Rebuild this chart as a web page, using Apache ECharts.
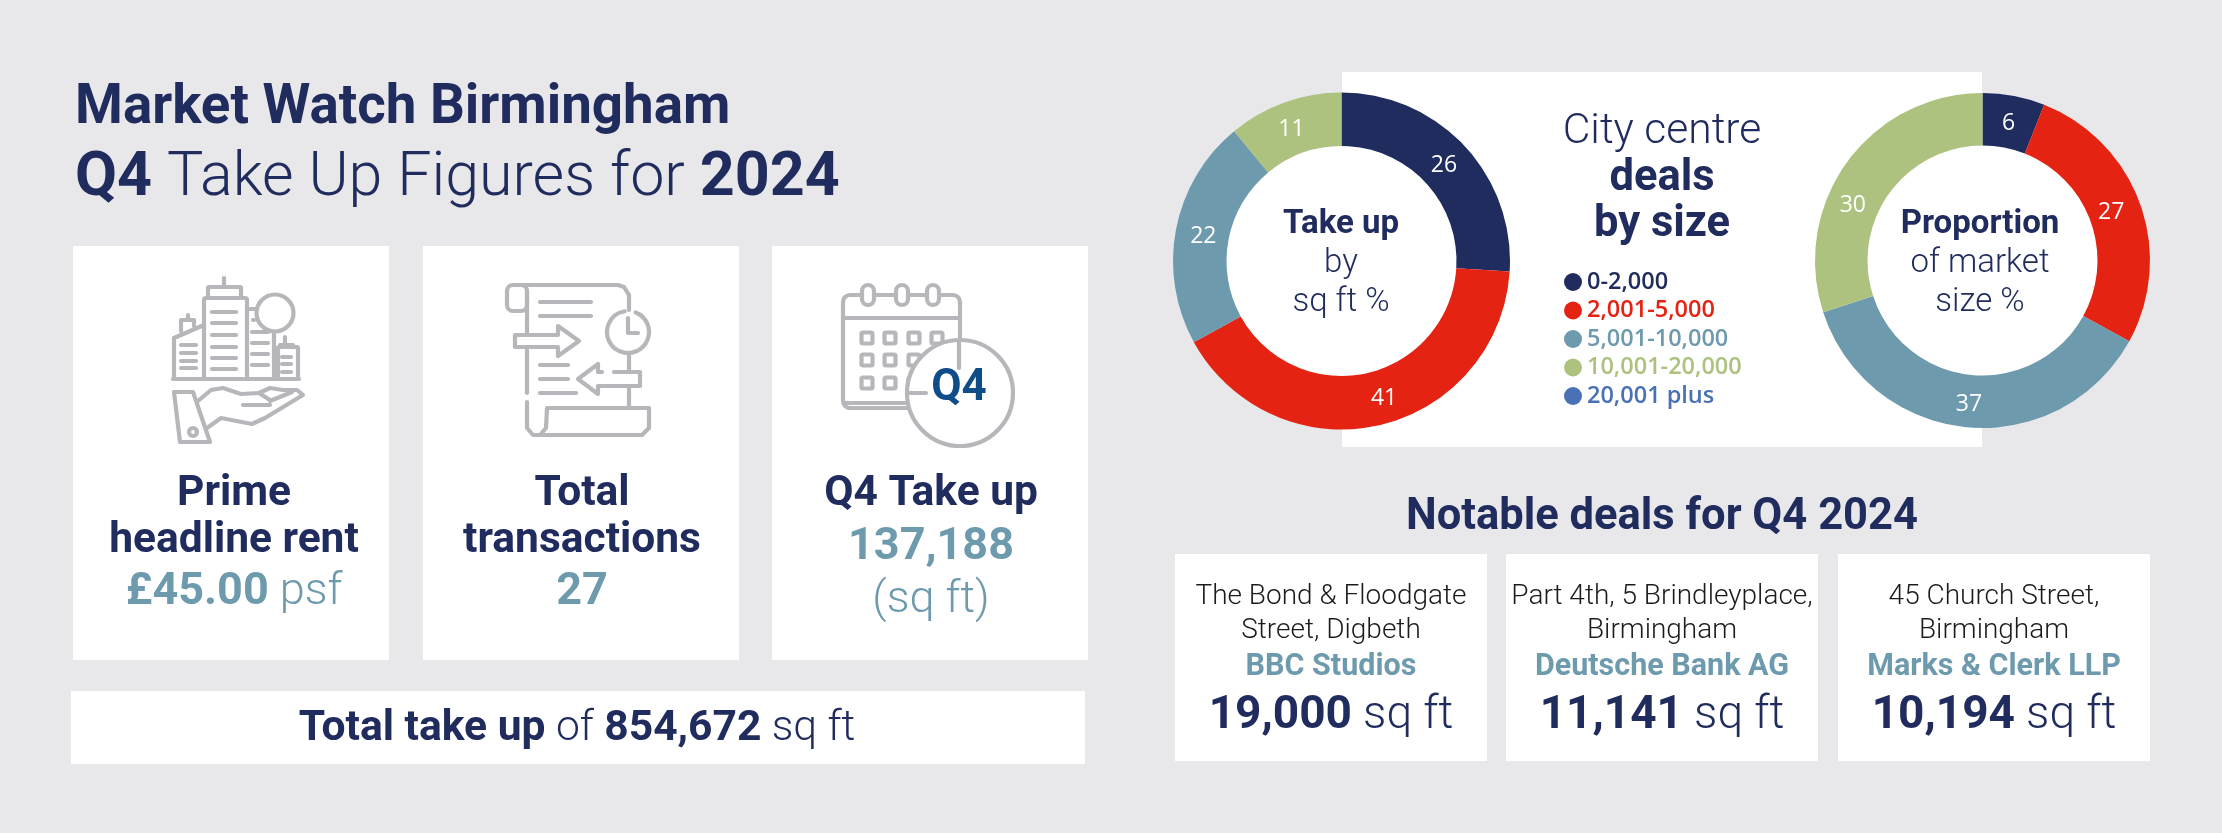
<html>
<head>
    <meta charset="UTF-8">
    <title>Market Watch Birmingham</title>
    <script src="https://cdn.jsdelivr.net/npm/echarts@6/dist/echarts.min.js"></script>
    <style>
        html, body { margin: 0; padding: 0; background: #e8e8ea; }
    </style>
</head>

<body>
    <div id="container" style="width: 2222px;height:833px;"></div>
</body>

<script>
    var sizeBands = ['0-2,000', '2,001-5,000', '5,001-10,000', '10,001-20,000', '20,001 plus'];
    var takeUpShare = [26, 41, 22, 11, 0];
    var marketShare = [6, 27, 37, 30, 0];

    var bandColors = ['#212c5e', '#e52313', '#6e9aae', '#adc27f', '#4a70b5'];

    // the value labels sit a little off the ring centre in the original
    var takeUpNudge = [[-3, 4], [11, -4], [4, 3], [-1, 5], [0, 0]];
    var marketNudge = [[-1, 5], [-7, 1], [0, 0], [-13, 30], [0, 0]];

    var navy = '#212c5e';
    var teal = '#6e9aae';
    var grey = '#b7b6bb';
    var font = 'Roboto';
    var stroke = 4.2;

    var dealPlaces = [['The Bond & Floodgate', 'Street, Digbeth'], ['Part 4th, 5 Brindleyplace,', 'Birmingham'], ['45 Church Street,', 'Birmingham']];
    var dealTenants = ['BBC Studios', 'Deutsche Bank AG', 'Marks & Clerk LLP'];
    var dealAreas = ['19,000', '11,141', '10,194'];

    var elements = [];

    function panel(x, y, w, h) {
        elements.push({ type: 'rect', z: 0, shape: { x: x, y: y, width: w, height: h }, style: { fill: '#fff' } });
    }

    function label(x, y, text, size, weight, color) {
        elements.push({
            type: 'text', z: 10,
            style: { x: x, y: y, text: text, fontFamily: font, fontSize: size, fontWeight: weight, fill: color, align: 'center', verticalAlign: 'middle' }
        });
    }

    // mixed weight line, parts are [text, weight]
    function mixed(x, y, parts, size, color, align) {
        var rich = {}, str = '';
        parts.forEach(function (p, i) {
            rich['p' + i] = { fontFamily: font, fontSize: size, fontWeight: p[1], fill: color };
            str += '{p' + i + '|' + p[0] + '}';
        });
        elements.push({
            type: 'text', z: 10,
            style: { x: x, y: y, text: str, rich: rich, align: align || 'center', verticalAlign: 'middle' }
        });
    }

    function poly(points, fill, z) {
        elements.push({
            type: 'polyline', z: z || 5,
            shape: { points: points },
            style: { fill: fill || 'none', stroke: grey, lineWidth: stroke, lineCap: 'round', lineJoin: 'round' }
        });
    }

    function line(x1, y1, x2, y2, z) {
        elements.push({ type: 'line', z: z || 5, shape: { x1: x1, y1: y1, x2: x2, y2: y2 }, style: { stroke: grey, lineWidth: stroke, lineCap: 'round' } });
    }

    function box(x, y, w, h, r, fill, z) {
        elements.push({ type: 'rect', z: z || 5, shape: { x: x, y: y, width: w, height: h, r: r || 0 }, style: { fill: fill || 'none', stroke: grey, lineWidth: stroke } });
    }

    function ring(cx, cy, r, fill, z) {
        elements.push({ type: 'circle', z: z || 5, shape: { cx: cx, cy: cy, r: r }, style: { fill: fill || 'none', stroke: grey, lineWidth: stroke } });
    }

    function arc(cx, cy, r, a0, a1) {
        elements.push({ type: 'arc', z: 5, shape: { cx: cx, cy: cy, r: r, startAngle: a0, endAngle: a1 }, style: { fill: 'none', stroke: grey, lineWidth: stroke, lineCap: 'round' } });
    }

    function buildingIcon() {
        box(204, 298, 43, 81, 2);
        box(208, 287, 33, 11, 1);
        line(224, 278, 224, 287);
        line(173, 379, 299, 379);
        poly([[204, 325], [174, 338], [174, 379]]);
        poly([[181, 331], [181, 320], [194, 320], [194, 326]]);
        line(188, 315, 188, 320);
        [345, 353, 361, 368].forEach(function (y) { line(181, y, 196, y); });
        [312, 323, 335, 347, 358, 369].forEach(function (y) { line(212, y, 236, y); });
        [332, 343, 354, 365].forEach(function (y) { line(252, y, 268, y); });
        line(253, 320, 254, 320);
        line(247, 309, 257, 309);
        ring(275, 313, 18.5);
        line(274, 332, 274, 379);
        box(278, 347, 20, 32, 1);
        [357, 364, 372].forEach(function (y) { line(282, y, 291, y); });
        line(285, 337, 285, 345);
        line(280, 345, 293, 345);
        poly([[174, 392], [193, 392], [210, 442], [180, 442], [174, 392]]);
        ring(193, 432, 4);
        poly([[198, 401], [211, 390], [223, 388], [241, 394], [259, 393], [270, 388], [283, 390], [297, 390], [303, 395], [265, 418], [252, 424], [221, 418], [207, 428]]);
        line(243, 405, 270, 405);
        poly([[270, 401], [292, 392]]);
        poly([[259, 393], [270, 400]]);
    }

    function documentIcon() {
        poly([[520, 285], [618, 285], [624, 287], [629, 295], [629, 310]]);
        box(507, 285, 20, 26, 6);
        line(527, 292, 527, 333);
        line(527, 350, 527, 393);
        poly([[527, 402], [527, 428], [533, 435], [540, 435], [546, 428], [547, 408], [649, 408], [649, 428], [642, 435], [540, 435]]);
        line(540, 302, 591, 302);
        line(540, 316, 591, 316);
        line(540, 365, 568, 365);
        line(540, 379, 568, 379);
        line(540, 393, 576, 393);
        poly([[515, 335], [558, 335], [558, 326], [579, 341], [558, 356], [558, 347], [515, 347], [515, 335]]);
        poly([[614, 372], [640, 372], [640, 386], [598, 386], [598, 394], [578, 379], [598, 364], [598, 372], [602, 372]]);
        arc(628, 332, 21, -Math.PI * 0.38, -Math.PI * 0.55);
        poly([[628, 318], [628, 333], [638, 333]]);
        line(629, 353, 629, 372);
        line(629, 387, 629, 408);
    }

    function calendarIcon() {
        box(843, 295, 117, 113, 7);
        line(843, 318, 960, 318);
        line(845, 403, 915, 403);
        [868, 902, 933].forEach(function (x) {
            box(x - 6, 285, 12, 20, 6, '#fff');
        });
        [867, 890, 914, 937].forEach(function (x) {
            [338, 360, 383].forEach(function (y) {
                box(x - 5.5, y - 5.5, 11, 11, 1.5);
            });
        });
        ring(960, 393, 53, '#fff', 6);
        line(959, 340, 959, 368, 7);
        line(908, 393, 926, 393, 7);
        label(959, 389, 'Q4', 44, 700, '#0f4c8a');
    }

    // heading
    mixed(75, 109, [['Market Watch Birmingham', 700]], 54.7, navy, 'left');
    mixed(75, 180, [['Q4', 700], [' Take Up Figures for ', 300], ['2024', 700]], 61, navy, 'left');

    // stat cards
    panel(73, 246, 316, 414);
    panel(423, 246, 316, 414);
    panel(772, 246, 316, 414);
    buildingIcon();
    documentIcon();
    calendarIcon();

    label(234, 494, 'Prime', 42.5, 700, navy);
    label(234, 541, 'headline rent', 42.5, 700, navy);
    mixed(234, 593, [['£45.00', 700], [' psf', 300]], 45, teal);

    label(582, 494, 'Total', 42.5, 700, navy);
    label(582, 541, 'transactions', 42.5, 700, navy);
    label(582, 593, '27', 45, 700, teal);

    label(931, 494, 'Q4 Take up', 42.5, 700, navy);
    label(931, 548, '137,188', 45, 700, teal);
    label(931, 601, '(sq ft)', 45, 300, teal);

    // total bar
    panel(71, 691, 1014, 73);
    mixed(577, 729, [['Total take up', 700], [' of ', 300], ['854,672', 700], [' sq ft', 300]], 42.6, navy);

    // centre panel
    panel(1342, 72, 640, 375);
    label(1662, 132, 'City centre', 42.6, 300, navy);
    label(1662, 179, 'deals', 43.5, 700, navy);
    label(1662, 225, 'by size', 43.5, 700, navy);

    // donut centres
    elements.push({ type: 'circle', z: 0, shape: { cx: 1341.5, cy: 261, r: 116 }, style: { fill: '#fff' } });
    elements.push({ type: 'circle', z: 0, shape: { cx: 1982.5, cy: 260.5, r: 116 }, style: { fill: '#fff' } });

    label(1341, 225, 'Take up', 33, 700, navy);
    label(1341, 264, 'by', 33, 300, navy);
    label(1341, 303, 'sq ft %', 33, 300, navy);

    label(1980, 225, 'Proportion', 33, 700, navy);
    label(1980, 264, 'of market', 33, 300, navy);
    label(1980, 303, 'size %', 33, 300, navy);

    // notable deals
    label(1662, 518, 'Notable deals for Q4 2024', 43.5, 700, navy);
    [[1175, 1331], [1506, 1662], [1838, 1994]].forEach(function (c, i) {
        panel(c[0], 554, 312, 207);
        label(c[1], 597, dealPlaces[i][0], 28, 300, '#1b1b1b');
        label(c[1], 631, dealPlaces[i][1], 28, 300, '#1b1b1b');
        label(c[1], 667, dealTenants[i], 30.5, 700, teal);
        mixed(c[1], 716, [[dealAreas[i], 700], [' sq ft', 300]], 46, navy);
    });

    function donut(cx, cy, outer, values, nudge) {
        return {
            type: 'pie',
            z: 3,
            center: [cx, cy],
            radius: [115, outer],
            startAngle: 90,
            animation: false,
            silent: true,
            label: {
                position: 'inside',
                color: '#fff',
                fontFamily: 'Open Sans',
                fontSize: 23,
                formatter: function (p) { return p.value > 0 ? String(p.value) : ''; }
            },
            labelLine: { show: false },
            labelLayout: function (p) {
                return { dx: nudge[p.dataIndex][0], dy: nudge[p.dataIndex][1] };
            },
            data: sizeBands.map(function (name, i) {
                return { name: name, value: values[i], itemStyle: { color: bandColors[i] } };
            })
        };
    }

    var mycharts = echarts.init(document.getElementById('container'));
    mycharts.setOption({
        backgroundColor: '#e8e8ea',
        animation: false,
        legend: {
            orient: 'vertical',
            left: 1559,
            top: 265,
            icon: 'circle',
            itemWidth: 18,
            itemHeight: 18,
            itemGap: 4.5,
            selectedMode: false,
            textStyle: { fontFamily: 'Open Sans', fontSize: 23.5, fontWeight: 600 },
            data: sizeBands.map(function (name, i) {
                return { name: name, textStyle: { color: bandColors[i] } };
            })
        },
        series: [
            donut(1341.5, 261, 168.5, takeUpShare, takeUpNudge),
            donut(1982.5, 260.5, 167.5, marketShare, marketNudge)
        ],
        graphic: { elements: elements }
    });
</script>
</html>
